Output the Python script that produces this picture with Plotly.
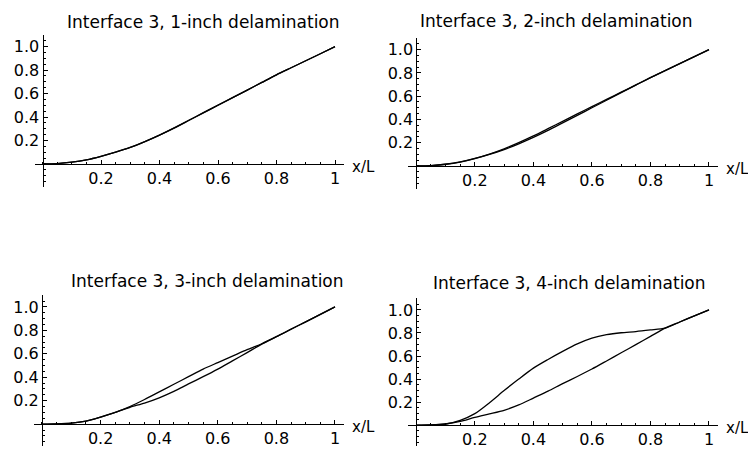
import plotly.graph_objects as go

# ---------------- data ----------------
x_grid = [0, 0.05, 0.1, 0.15, 0.2, 0.25, 0.3, 0.35, 0.4, 0.45, 0.5,
          0.55, 0.6, 0.65, 0.7, 0.75, 0.8, 0.85, 0.9, 0.95, 1.0]

titles = ["Interface 3, 1-inch delamination",
          "Interface 3, 2-inch delamination",
          "Interface 3, 3-inch delamination",
          "Interface 3, 4-inch delamination"]

p1_a = [0, 0.003, 0.015, 0.035, 0.065, 0.10, 0.14, 0.19, 0.245, 0.305, 0.37,
        0.435, 0.50, 0.565, 0.63, 0.695, 0.76, 0.82, 0.88, 0.94, 1.0]
p1_b = [0, 0.003, 0.015, 0.035, 0.065, 0.10, 0.14, 0.19, 0.246, 0.307, 0.372,
        0.437, 0.501, 0.566, 0.63, 0.695, 0.76, 0.82, 0.88, 0.94, 1.0]

p2_a = [0, 0.003, 0.014, 0.033, 0.062, 0.098, 0.14, 0.19, 0.245, 0.305, 0.37,
        0.435, 0.50, 0.565, 0.63, 0.695, 0.76, 0.82, 0.88, 0.94, 1.0]
p2_b = [0, 0.003, 0.014, 0.034, 0.064, 0.102, 0.147, 0.2, 0.258, 0.32, 0.383,
        0.447, 0.51, 0.572, 0.634, 0.697, 0.76, 0.82, 0.88, 0.94, 1.0]

p3_a = [0, 0.002, 0.008, 0.025, 0.06, 0.10, 0.144, 0.18, 0.225, 0.28, 0.343,
        0.405, 0.47, 0.54, 0.61, 0.683, 0.746, 0.81, 0.873, 0.937, 1.0]
p3_b = [0, 0.002, 0.008, 0.025, 0.06, 0.10, 0.15, 0.21, 0.275, 0.34, 0.405,
        0.47, 0.525, 0.58, 0.635, 0.686, 0.746, 0.81, 0.873, 0.937, 1.0]

p4_a = [0, 0.002, 0.01, 0.032, 0.068, 0.098, 0.129, 0.175, 0.235, 0.295, 0.36,
        0.422, 0.487, 0.557, 0.628, 0.699, 0.77, 0.842, 0.895, 0.948, 1.0]
p4_b = [0, 0.002, 0.01, 0.042, 0.10, 0.195, 0.30, 0.40, 0.495, 0.57, 0.64,
        0.705, 0.755, 0.785, 0.802, 0.812, 0.826, 0.842, 0.895, 0.948, 1.0]

series = [(p1_a, p1_b), (p2_a, p2_b), (p3_a, p3_b), (p4_a, p4_b)]

x_ticks = [0.2, 0.4, 0.6, 0.8, 1.0]
x_ticktext = ["0.2", "0.4", "0.6", "0.8", "1"]
y_ticks = [0.2, 0.4, 0.6, 0.8, 1.0]
y_ticktext = ["0.2", "0.4", "0.6", "0.8", "1.0"]
x_label = "x/L"

# ---------------- layout geometry ----------------
W, H = 748, 449


def px(xp):
    return xp / W


def py(yp):
    return 1 - yp / H


x_range = [-0.027, 1.03]
# pixel of x=0, pixel of x=1, pixel of y=0, pixel of y=1 for each panel
geo = [
    dict(x0=42.5, x1=335.0, y0=165.0, y1=47.0, bottom=-0.2, title=(204, 22)),
    dict(x0=416.3, x1=709.0, y0=167.0, y1=50.0, bottom=-0.2, title=(556, 21)),
    dict(x0=42.0, x1=335.0, y0=427.0, y1=309.0, bottom=None, title=(207, 282.5)),
    dict(x0=416.3, x1=709.0, y0=428.0, y1=312.0, bottom=None, title=(569, 284.5)),
]
Y_TOP = 1.1

FONT = "DejaVu Sans"
fig = go.Figure()
layout = dict(
    width=W, height=H,
    margin=dict(l=0, r=0, t=0, b=0, pad=0),
    paper_bgcolor="white", plot_bgcolor="white",
    showlegend=False,
    font=dict(family=FONT, size=16, color="black"),
    annotations=[],
)

for i, (g, (ya, yb)) in enumerate(zip(geo, series)):
    n = "" if i == 0 else str(i + 1)
    xa, yax = "x" + n, "y" + n
    for ys in (ya, yb):
        fig.add_trace(go.Scatter(x=x_grid, y=ys, mode="lines", xaxis=xa, yaxis=yax,
                                 line=dict(color="black", width=1.3, shape="spline", smoothing=0.7),
                                 hoverinfo="skip"))
    sx = g["x1"] - g["x0"]
    sy = g["y0"] - g["y1"]
    xl_pix = g["x0"] + x_range[0] * sx
    xr_pix = g["x0"] + x_range[1] * sx
    top_pix = g["y0"] - Y_TOP * sy
    if g["bottom"] is None:
        bot_pix = float(H)
        y_bottom = -(bot_pix - g["y0"]) / sy
    else:
        y_bottom = g["bottom"]
        bot_pix = g["y0"] - y_bottom * sy
    xd = [px(xl_pix), px(xr_pix)]
    yd = [max(0.0, py(bot_pix)), py(top_pix)]
    yr = [y_bottom, Y_TOP]
    ypos = py(g["y0"])
    xpos = px(g["x0"])
    layout["xaxis" + n] = dict(
        domain=xd, range=x_range, anchor="free", position=ypos,
        showline=True, linecolor="black", linewidth=1,
        showgrid=False, zeroline=False,
        tickmode="array", tickvals=x_ticks, ticktext=x_ticktext,
        ticks="inside", ticklen=4, tickcolor="black", tickwidth=1,
        tickfont=dict(family=FONT, size=16, color="black"),
        minor=dict(ticks="inside", ticklen=2, dtick=0.05, tick0=0, tickcolor="black", showgrid=False),
        fixedrange=True,
    )
    layout["yaxis" + n] = dict(
        domain=yd, range=yr, anchor="free", position=xpos,
        showline=True, linecolor="black", linewidth=1,
        showgrid=False, zeroline=False,
        tickmode="array", tickvals=y_ticks, ticktext=y_ticktext,
        ticks="inside", ticklen=4, tickcolor="black", tickwidth=1,
        tickfont=dict(family=FONT, size=16, color="black"),
        minor=dict(ticks="inside", ticklen=2, dtick=0.05, tick0=0, tickcolor="black", showgrid=False),
        fixedrange=True,
    )
    tx, ty = g["title"]
    layout["annotations"].append(dict(
        text=titles[i], x=px(tx), y=py(ty), xref="paper", yref="paper",
        xanchor="center", yanchor="middle", showarrow=False,
        font=dict(family=FONT, size=17, color="black")))
    layout["annotations"].append(dict(
        text=x_label, x=1.0, y=0, xref=xa, yref=yax,
        xanchor="left", yanchor="middle", xshift=15, yshift=-3, showarrow=False,
        font=dict(family=FONT, size=15, color="black")))

fig.update_layout(**layout)
fig.write_html("out.html", config={"displayModeBar": False},
               post_script="document.body.style.margin='0px';")
